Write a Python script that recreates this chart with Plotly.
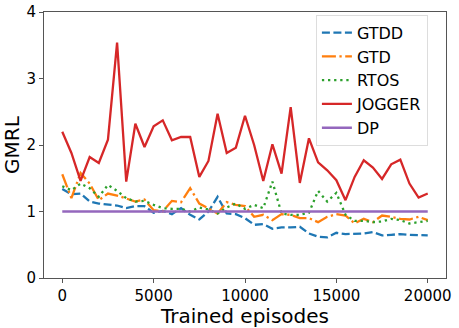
import plotly.graph_objects as go

# training episodes, sampled every 500
episodes = list(range(0, 20001, 500))

gtdd = [1.34, 1.26, 1.27, 1.15, 1.12, 1.11, 1.09, 1.05, 1.08, 1.08,
        0.98, 1.01, 0.96, 1.05, 0.95, 0.88, 1.00, 1.22, 0.97, 0.96,
        0.90, 0.80, 0.81, 0.74, 0.76, 0.76, 0.77, 0.67, 0.62, 0.61,
        0.68, 0.66, 0.66, 0.67, 0.69, 0.64, 0.65, 0.66, 0.65, 0.65, 0.64]

gtd = [1.56, 1.20, 1.58, 1.42, 1.17, 1.27, 1.24, 1.20, 1.15, 1.18,
       1.02, 1.00, 1.16, 1.14, 1.35, 1.12, 1.04, 0.97, 1.14, 1.10,
       1.08, 0.92, 0.95, 0.87, 0.96, 0.95, 0.90, 0.90, 0.84, 0.92,
       0.96, 0.94, 0.82, 0.89, 0.84, 0.94, 0.92, 0.89, 0.88, 0.92, 0.87]

rtos = [1.38, 1.32, 1.42, 1.35, 1.22, 1.40, 1.31, 1.20, 1.15, 1.16,
        1.10, 1.05, 1.04, 1.04, 1.00, 1.06, 1.03, 0.97, 1.06, 1.12,
        1.04, 1.10, 1.05, 1.45, 0.97, 0.95, 0.95, 0.98, 1.31, 1.15,
        1.28, 0.95, 0.86, 0.86, 0.84, 0.85, 0.89, 0.87, 0.82, 0.84, 0.86]

jogger = [2.20, 1.88, 1.46, 1.82, 1.73, 2.08, 3.54, 1.45, 2.32, 1.97,
          2.28, 2.37, 2.07, 2.12, 2.12, 1.52, 1.76, 2.47, 1.88, 1.96,
          2.44, 2.00, 1.46, 2.01, 1.57, 2.57, 1.43, 2.10, 1.74, 1.62,
          1.47, 1.17, 1.52, 1.77, 1.66, 1.49, 1.71, 1.78, 1.42, 1.21, 1.27]

dp = [1.0] * len(episodes)

x_ticks = [0, 5000, 10000, 15000, 20000]
y_ticks = [0, 1, 2, 3, 4]

series = [
    ('GTDD', gtdd, '#1f77b4', '8px,3.5px'),
    ('GTD', gtd, '#ff7f0e', '14px,3.5px,2.3px,3.5px'),
    ('RTOS', rtos, '#2ca02c', '2.3px,3.8px'),
    ('JOGGER', jogger, '#d62728', 'solid'),
    ('DP', dp, '#9467bd', 'solid'),
]

fig = go.Figure()
for name, values, color, dash in series:
    fig.add_trace(go.Scatter(
        x=episodes, y=values, mode='lines', name=name,
        line={'color': color, 'width': 2.3, 'dash': dash},
    ))

axis_common = dict(
    showgrid=False, zeroline=False, automargin=False,
    showline=True, linecolor='#555', linewidth=1, mirror=True,
    ticks='outside', ticklen=4, tickcolor='#555',
    tickfont={'size': 15, 'color': 'black'},
)

fig.update_xaxes(
    range=[-1000, 21000], tickvals=x_ticks, ticktext=[str(t) for t in x_ticks],
    title={'text': 'Trained episodes', 'font': {'size': 20, 'color': 'black'}, 'standoff': 2},
    **axis_common,
)
fig.update_yaxes(
    range=[0, 4], tickvals=y_ticks, ticktext=[str(t) for t in y_ticks],
    title={'text': 'GMRL', 'font': {'size': 20, 'color': 'black'}, 'standoff': 6},
    **axis_common,
)

fig.update_layout(
    width=459, height=328,
    margin={'l': 44, 'r': 13, 't': 12, 'b': 50},
    plot_bgcolor='white', paper_bgcolor='white',
    font={'family': 'DejaVu Sans', 'color': 'black'},
    legend={
        'x': 0.955, 'y': 0.99, 'xanchor': 'right', 'yanchor': 'top',
        'bgcolor': 'rgba(255,255,255,0.8)', 'bordercolor': '#ddd', 'borderwidth': 1,
        'font': {'size': 16}, 'tracegroupgap': 0, 'itemwidth': 30,
    },
)

# drop the page margin so the figure sits at the window's corner
fig.write_html(
    'out.html',
    config={'displayModeBar': False},
    post_script="document.body.style.margin='0';",
)
